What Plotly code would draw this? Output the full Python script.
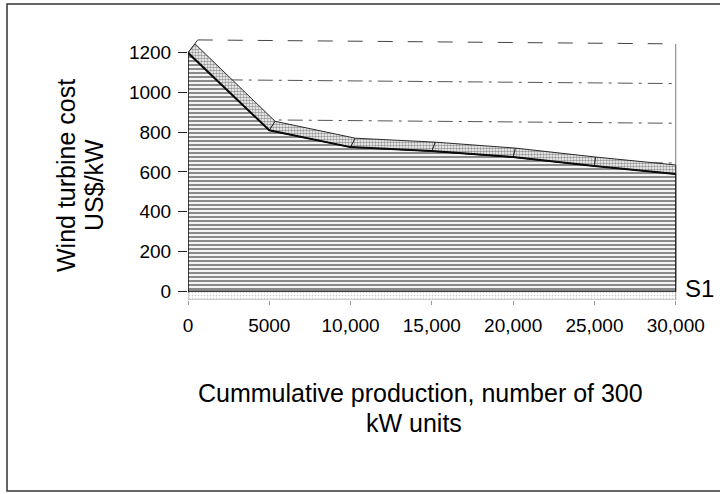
import plotly.graph_objects as go

# Wind turbine cost versus cumulative production (300 kW units)
categories = ["0", "5000", "10,000", "15,000", "20,000", "25,000", "30,000"]
cost = [1200, 810, 725, 705, 675, 630, 590]
series_name = "S1"
y_ticks = [0, 200, 400, 600, 800, 1000, 1200]

FONT = "Liberation Sans, Arial, sans-serif"
idx = list(range(len(categories)))
n = len(categories) - 1

# Pseudo-3D depth offsets (style only)
band_dy = 45                      # top band depth, in value units
band_dx = [0.086 * (1 - i / n) for i in idx]
wall_off_l, wall_off_r = 65, 45   # back wall lift at left / right
wall_x0, wall_x1 = 0.12, n
floor_depth = 45

# Plot-area geometry in pixels (used to place paper-referenced text)
L, R, T, B = 188, 28, 27, 194
W, H = 720 - L - R, 494 - T - B


def px_x(px):
    return (px - L) / W


def px_y(py):
    return (T + H - py) / H


fig = go.Figure()

# Floor slab under the series
fig.add_trace(go.Scatter(
    x=[0, n, n, 0, 0], y=[0, 0, -floor_depth, -floor_depth, 0],
    fill="toself", mode="lines",
    line=dict(color="#8a8a8a", width=0.8),
    fillcolor="white",
    fillpattern=dict(shape=".", fgcolor="#9a9a9a", bgcolor="white", size=3, solidity=0.25),
    hoverinfo="skip", showlegend=False))

# Front face of the area
fig.add_trace(go.Scatter(
    x=[0] + idx + [n, 0], y=[0] + cost + [0, 0],
    fill="toself", mode="lines",
    line=dict(color="#111111", width=1.2),
    fillcolor="white",
    fillpattern=dict(shape="-", fgcolor="#161616", bgcolor="white", size=4, solidity=0.55),
    name=series_name, hoverinfo="skip", showlegend=False))

# Top band (depth of the area), one facet per segment
for i in range(n):
    xs = [i, i + 1, i + 1 + band_dx[i + 1], i + band_dx[i], i]
    ys = [cost[i], cost[i + 1], cost[i + 1] + band_dy, cost[i] + band_dy, cost[i]]
    fig.add_trace(go.Scatter(
        x=xs, y=ys, fill="toself", mode="lines",
        line=dict(color="#2a2a2a", width=1),
        fillcolor="white",
        fillpattern=dict(shape=".", fgcolor="#333333", bgcolor="white", size=3, solidity=0.55),
        hoverinfo="skip", showlegend=False))

# Front edge drawn heavier
fig.add_trace(go.Scatter(x=idx, y=cost, mode="lines",
                         line=dict(color="#0a0a0a", width=2),
                         hoverinfo="skip", showlegend=False))

shapes = []
# Back wall gridlines
for v in y_ticks[1:-1]:
    shapes.append(dict(type="line", xref="x", yref="y", layer="below",
                       x0=wall_x0, y0=v + wall_off_l, x1=wall_x1, y1=v + wall_off_r,
                       line=dict(color="#555555", width=1, dash="longdashdot")))
# Back wall outline
top = y_ticks[-1]
shapes.append(dict(type="line", xref="x", yref="y", layer="below",
                   x0=wall_x0, y0=top + wall_off_l, x1=wall_x1, y1=top + wall_off_r,
                   line=dict(color="#444444", width=1, dash="longdash")))
shapes.append(dict(type="line", xref="x", yref="y", layer="below",
                   x0=wall_x1, y0=top + wall_off_r, x1=wall_x1, y1=wall_off_r,
                   line=dict(color="#777777", width=1)))
shapes.append(dict(type="line", xref="x", yref="y", layer="below",
                   x0=0, y0=top, x1=wall_x0, y1=top + wall_off_l,
                   line=dict(color="#333333", width=1)))
# Value axis line
shapes.append(dict(type="line", xref="x", yref="y", layer="above",
                   x0=0, y0=-floor_depth * 0.2, x1=0, y1=top,
                   line=dict(color="#222222", width=1.2)))
# Outer frame
shapes.append(dict(type="rect", xref="paper", yref="paper", layer="below",
                   x0=px_x(7), x1=px_x(735), y0=px_y(491), y1=px_y(4),
                   line=dict(color="#333333", width=1.5)))

annotations = [
    dict(text="Wind turbine cost", x=px_x(66), y=px_y(176), textangle=-90,
         font=dict(size=25, color="black", family=FONT)),
    dict(text="US$/kW", x=px_x(94), y=px_y(185), textangle=-90,
         font=dict(size=25, color="black", family=FONT)),
    dict(text="Cummulative production, number of 300", x=px_x(420), y=px_y(393),
         font=dict(size=25, color="black", family=FONT)),
    dict(text="kW units", x=px_x(414), y=px_y(423),
         font=dict(size=25, color="black", family=FONT)),
    dict(text=series_name, x=px_x(699), y=px_y(288),
         font=dict(size=24, color="black", family=FONT)),
]
for a in annotations:
    a.update(xref="paper", yref="paper", showarrow=False,
             xanchor="center", yanchor="middle")

fig.update_layout(
    width=720, height=494,
    margin=dict(l=L, r=R, t=T, b=B),
    paper_bgcolor="white", plot_bgcolor="white",
    font=dict(family=FONT, color="black"),
    shapes=shapes, annotations=annotations,
    xaxis=dict(range=[0, n + 0.2], tickmode="array", tickvals=idx, ticktext=categories,
               showgrid=False, zeroline=False, showline=False,
               ticks="outside", ticklen=4, tickcolor="#999999",
               tickfont=dict(size=19, family=FONT), ticklabelstandoff=4),
    yaxis=dict(range=[-floor_depth, 1330], tickmode="array", tickvals=y_ticks,
               showgrid=False, zeroline=False, showline=False,
               ticks="outside", ticklen=9, tickcolor="#222222",
               tickfont=dict(size=19, family=FONT), ticklabelstandoff=3),
)

fig.write_html("out.html")
